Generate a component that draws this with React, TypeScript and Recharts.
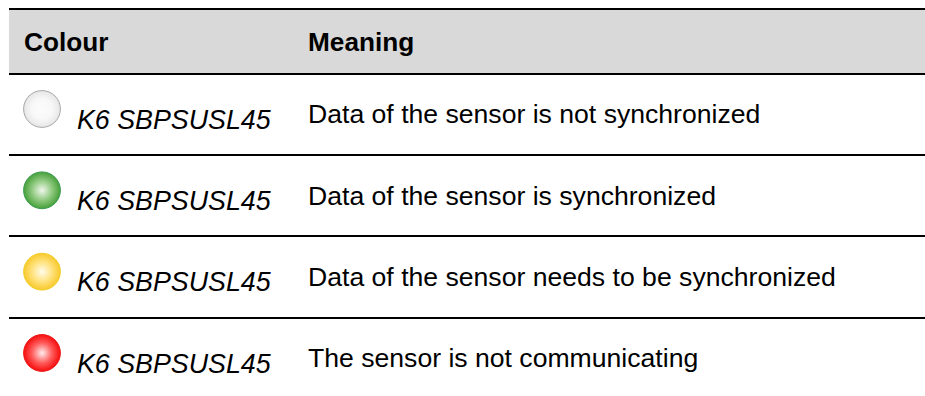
import { ScatterChart, Scatter, XAxis, YAxis, ReferenceArea, ReferenceLine } from 'recharts'

const headers = ['Colour', 'Meaning']
const sensorNames = ['K6 SBPSUSL45', 'K6 SBPSUSL45', 'K6 SBPSUSL45', 'K6 SBPSUSL45']
const meanings = [
  'Data of the sensor is not synchronized',
  'Data of the sensor is synchronized',
  'Data of the sensor needs to be synchronized',
  'The sensor is not communicating',
]
const statuses = ['grey', 'green', 'yellow', 'red']
const rowIndex = [0, 1, 2, 3]

const gradients: Record<string, { inner: string; mid: string; outer: string; stroke: string }> = {
  grey: { inner: '#fcfcfc', mid: '#f8f8f8', outer: '#e6e6e6', stroke: '#a8a8a8' },
  green: { inner: '#f0f7ec', mid: '#8fc97f', outer: '#47a03a', stroke: '#3b9b50' },
  yellow: { inner: '#fffcec', mid: '#ffe27e', outer: '#f8c92a', stroke: '#f0cf30' },
  red: { inner: '#ffecec', mid: '#ff5c5c', outer: '#f60c0c', stroke: '#ee1c1c' },
}

const rows = rowIndex.map((r) => ({
  row: r,
  status: statuses[r],
  sensor: sensorNames[r],
  meaning: meanings[r],
}))

const WIDTH = 925
const HEIGHT = 396
const FONT = '"Liberation Sans", Arial, sans-serif'
const ink = '#000'

// table drawn in row units, one row = 81.33px, row 0 dot centre at 109px
const yDomain: [number, number] = [-1.34, 3.529]
const rules = [-1.23, -0.43, 0.5656, 1.5615, 2.5698]

function Dot(props: any) {
  const { cx, cy, payload } = props
  const g = gradients[payload.status]
  return (
    <circle cx={cx} cy={cy} r={18.4} fill={`url(#dot-${payload.status})`} stroke={g.stroke} strokeWidth={1} />
  )
}

function SensorText(props: any) {
  const { cx, cy, payload } = props
  return (
    <text x={cx} y={cy + 19.8} fontFamily={FONT} fontStyle="italic" fontSize={26.8} fill={ink}>
      {payload.sensor}
    </text>
  )
}

function MeaningText(props: any) {
  const { cx, cy, payload } = props
  return (
    <text x={cx} y={cy + 14.5} fontFamily={FONT} fontSize={26.6} fill={ink}>
      {payload.meaning}
    </text>
  )
}

function HeaderText(props: any) {
  const { cx, cy, payload } = props
  return (
    <text x={cx} y={cy + 9} fontFamily={FONT} fontWeight="bold" fontSize={26.2} fill={ink}>
      {payload.label}
    </text>
  )
}

export default function App() {
  const dotData = rows.map((r) => ({ ...r, col: 42 }))
  const sensorData = rows.map((r) => ({ ...r, col: 77 }))
  const meaningData = rows.map((r) => ({ ...r, col: 308 }))
  const headerData = [
    { label: headers[0], col: 24, row: -0.82 },
    { label: headers[1], col: 308, row: -0.82 },
  ]

  return (
    <div style={{ position: 'absolute', left: 0, top: 0 }}>
      <ScatterChart width={WIDTH} height={HEIGHT} margin={{ top: 0, right: 0, bottom: 0, left: 0 }}>
        <defs>
          {statuses.map((s) => (
            <radialGradient key={s} id={`dot-${s}`}>
              <stop offset="0%" stopColor={gradients[s].inner} />
              <stop offset="55%" stopColor={gradients[s].mid} />
              <stop offset="100%" stopColor={gradients[s].outer} />
            </radialGradient>
          ))}
        </defs>
        <XAxis type="number" dataKey="col" domain={[0, WIDTH]} hide />
        <YAxis type="number" dataKey="row" domain={yDomain} reversed hide allowDataOverflow />

        <ReferenceArea x1={9} x2={WIDTH} y1={rules[0]} y2={rules[1]} fill="#d9d9d9" fillOpacity={1} stroke="none" />
        {rules.map((r) => (
          <ReferenceLine
            key={r}
            segment={[
              { x: 9, y: r },
              { x: WIDTH, y: r },
            ]}
            stroke="#000"
            strokeWidth={2}
          />
        ))}

        <Scatter data={headerData} shape={HeaderText} isAnimationActive={false} />
        <Scatter data={dotData} shape={Dot} isAnimationActive={false} />
        <Scatter data={sensorData} shape={SensorText} isAnimationActive={false} />
        <Scatter data={meaningData} shape={MeaningText} isAnimationActive={false} />
      </ScatterChart>
    </div>
  )
}
